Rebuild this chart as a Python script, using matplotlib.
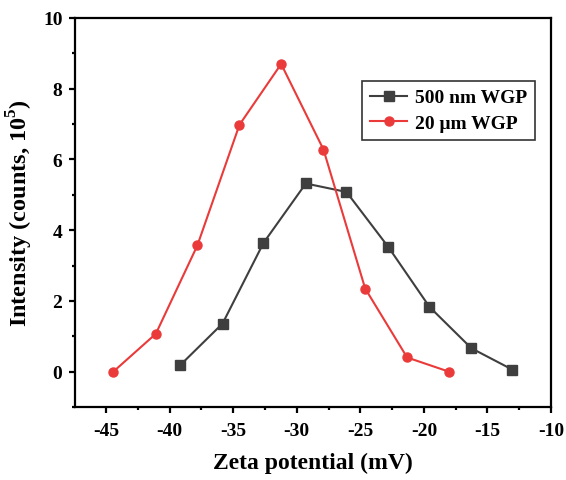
import numpy as np
import matplotlib.pyplot as plt
from matplotlib.ticker import MultipleLocator

plt.rcParams['font.family'] = ['Liberation Serif', 'DejaVu Serif']
plt.rcParams['font.weight'] = 'bold'
plt.rcParams['axes.unicode_minus'] = False
plt.rcParams['mathtext.fontset'] = 'custom'
plt.rcParams['mathtext.rm'] = 'Liberation Serif:bold'
plt.rcParams['mathtext.bf'] = 'Liberation Serif:bold'

# Zeta potential distributions
zeta_500nm = [-39.15, -35.84, -32.62, -29.29, -26.09, -22.79, -19.56, -16.26, -13.06]
counts_500nm = [0.19, 1.36, 3.64, 5.32, 5.08, 3.52, 1.83, 0.66, 0.06]

zeta_20um = [-44.43, -41.09, -37.82, -34.51, -31.23, -27.90, -24.62, -21.32, -18.04]
counts_20um = [0.0, 1.07, 3.57, 6.98, 8.70, 6.28, 2.35, 0.40, 0.0]

xticks = [-45, -40, -35, -30, -25, -20, -15, -10]
yticks = [0, 2, 4, 6, 8, 10]

fig = plt.figure(figsize=(5.66, 4.81), dpi=100)
ax = fig.add_axes([0.1325, 0.1518, 0.841, 0.8087])

ax.plot(zeta_500nm, counts_500nm, color='#3f3f3f', marker='s', markersize=6.5,
        linewidth=1.5, label='500 nm WGP')
ax.plot(zeta_20um, counts_20um, color='#ea3a3a', marker='o', markersize=6.5,
        linewidth=1.5, label='20 μm WGP')

ax.set_xlim(-47.45, -10)
ax.set_ylim(-1, 10)
ax.set_xticks(xticks)
ax.set_yticks(yticks)
ax.xaxis.set_minor_locator(MultipleLocator(2.5))
ax.yaxis.set_minor_locator(MultipleLocator(1))
ax.tick_params(which='major', direction='out', length=4, width=1.6, labelsize=14)
ax.tick_params(axis='x', which='major', pad=7)
ax.tick_params(axis='y', which='major', pad=5)
ax.tick_params(which='minor', direction='out', length=2.5, width=1.6)
ax.tick_params(top=False, right=False)
for s in ax.spines.values():
    s.set_linewidth(1.6)

ax.set_xlabel('Zeta potential (mV)', fontsize=17, fontweight='bold', labelpad=9)
ax.set_ylabel('Intensity (counts, 10$^5$)', fontsize=17.5, fontweight='bold', labelpad=6)

# legend box sits in the upper right, below the top spine
leg = ax.legend(loc='upper right', bbox_to_anchor=(0.966, 0.838), borderaxespad=0,
                fontsize=14, frameon=True, fancybox=False, edgecolor='black',
                handlelength=1.9, borderpad=0.4, labelspacing=0.4, handletextpad=0.4)
leg.get_frame().set_linewidth(1.2)

fig.savefig('out.png', dpi=100)
